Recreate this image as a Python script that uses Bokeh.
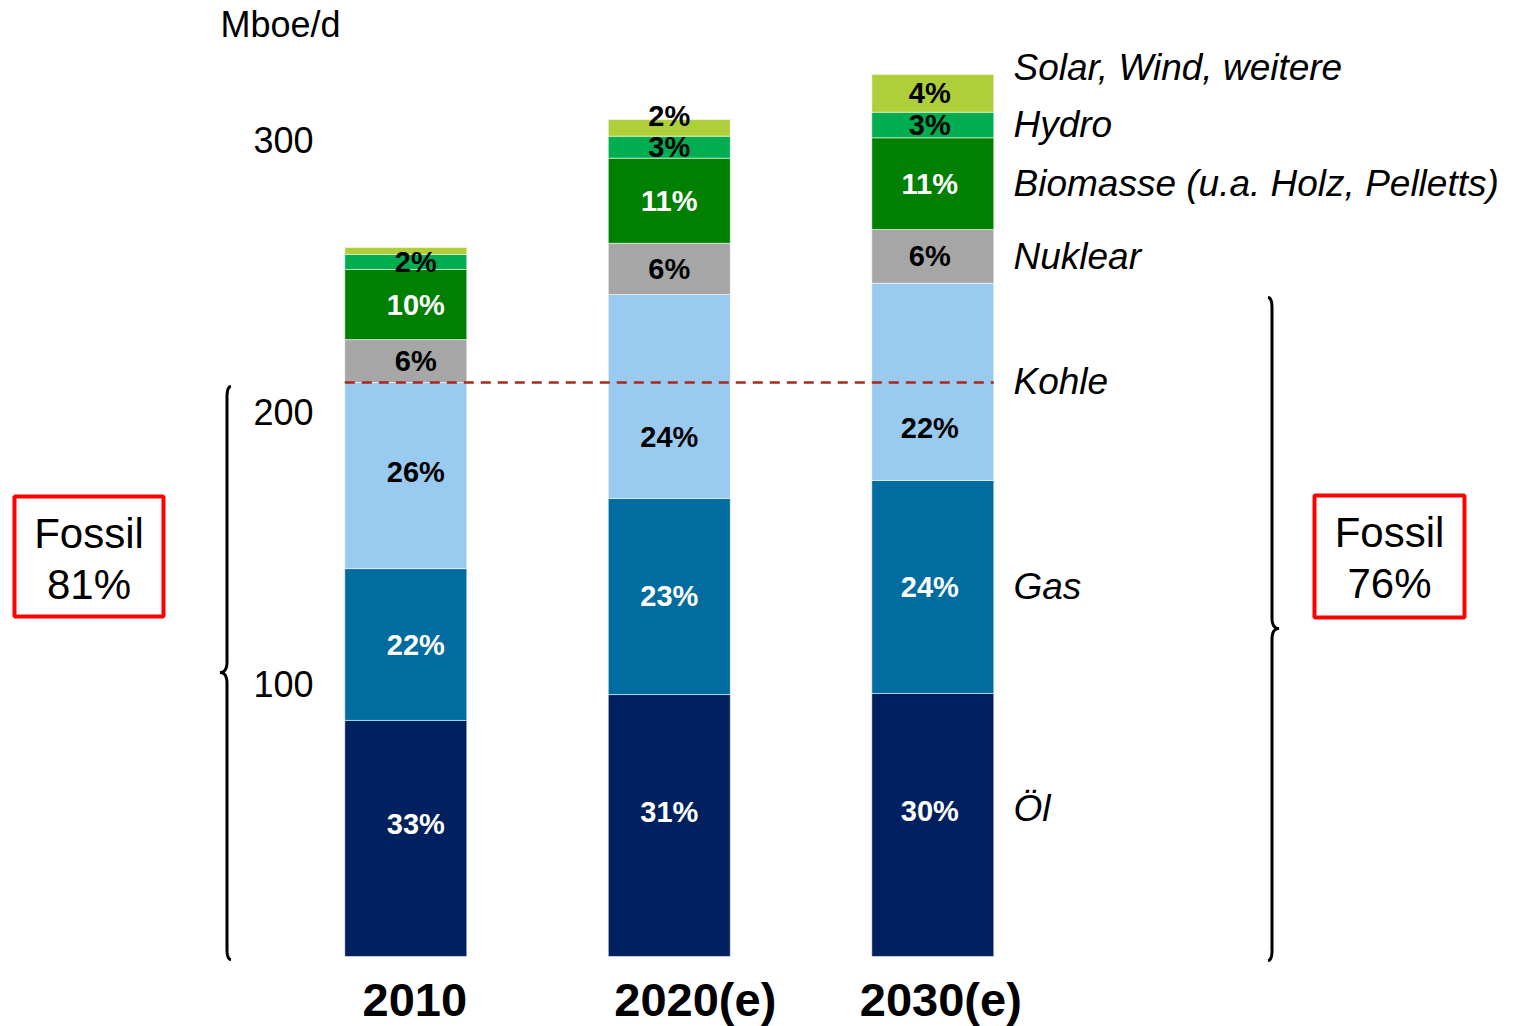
import numpy as np
from bokeh.plotting import figure
from bokeh.models import Range1d, ColumnDataSource
from bokeh.core.properties import value
from bokeh.embed import file_html
from bokeh.resources import INLINE

# ---------------- data ----------------
years = ["2010", "2020(e)", "2030(e)"]
series = ["Öl", "Gas", "Kohle", "Nuklear", "Biomasse (u.a. Holz, Pelletts)", "Hydro", "Solar, Wind, weitere"]
oil = [86.8, 96.3, 96.7]
gas = [55.8, 72.1, 78.3]
coal = [68.4, 75.0, 72.5]
nuclear = [15.8, 18.8, 19.8]
biomass = [25.8, 31.3, 33.7]
hydro = [5.5, 8.1, 9.4]
solar = [2.6, 6.1, 13.9]
pct_oil = ["33%", "31%", "30%"]
pct_gas = ["22%", "23%", "24%"]
pct_coal = ["26%", "24%", "22%"]
pct_nuclear = ["6%", "6%", "6%"]
pct_biomass = ["10%", "11%", "11%"]
pct_hydro = ["2%", "3%", "3%"]
pct_solar = ["", "2%", "4%"]
fossil_share = ["81%", "76%"]
fossil_label = "Fossil"
y_ticks = [100, 200, 300]
y_unit = "Mboe/d"

# ---------------- styles ----------------
colors = ["#002060", "#006C9F", "#99CAF0", "#A6A6A6", "#008000", "#00AD50", "#AECE3A"]
label_colors = ["white", "white", "black", "black", "white", "black", "black"]
cat_offsets_px = [9, 26, 8]
pct_offsets_px = [10, 0, -3]
FONT = value("Liberation Sans")

W, H = 1514, 1026
X0, X1 = -1.5381, 4.2076
Y0, Y1 = -25.74, 351.47
XPU = W / (X1 - X0)
YPU = H / (Y1 - Y0)


def ix(px):  # picture pixel -> data x
    return X0 + px / XPU


def iy(py):  # picture pixel -> data y
    return Y1 - py / YPU


p = figure(width=W, height=H, x_range=Range1d(X0, X1), y_range=Range1d(Y0, Y1),
           output_backend="svg", toolbar_location=None, min_border=0,
           x_axis_location=None, y_axis_location=None)
p.grid.visible = False
p.outline_line_color = None
p.background_fill_color = "white"

# ---------------- stacked bars ----------------
vals = [oil, gas, coal, nuclear, biomass, hydro, solar]
pcts = [pct_oil, pct_gas, pct_coal, pct_nuclear, pct_biomass, pct_hydro, pct_solar]
xs = np.arange(len(years))
BAR_W = 0.463
bottom = np.zeros(len(years))
bots, tops = [], []
for v, c in zip(vals, colors):
    top = bottom + np.array(v)
    p.vbar(x=xs, bottom=bottom, top=top, width=BAR_W, fill_color=c,
           line_color="white", line_alpha=0.55, line_width=1)
    bots.append(bottom.copy())
    tops.append(top.copy())
    bottom = top

# fossil level of 2010 (dashed line)
fossil_2010 = oil[0] + gas[0] + coal[0]
p.line(x=[xs[0] - BAR_W / 2, xs[-1] + BAR_W / 2], y=[fossil_2010, fossil_2010],
       line_color="#A8281E", line_width=2.5, line_dash="10 7")

# percentage labels
lx, ly, lt, lc, lo = [], [], [], [], []
for k in range(len(vals)):
    for i in range(len(years)):
        if not pcts[k][i]:
            continue
        b, t = bots[k][i], tops[k][i]
        if series[k] == "Kohle":
            t = min(t, fossil_2010)
        y = (b + t) / 2
        if k == 0:
            y += 14 / YPU
        if series[k] == "Kohle":
            y += 4 / YPU
        if k == len(vals) - 1 and (t - b) * YPU < 24:
            y = t + 4 / YPU
        lx.append(xs[i])
        ly.append(y)
        lt.append(pcts[k][i])
        lc.append(label_colors[k])
        lo.append(pct_offsets_px[i])
p.text(x="x", y="y", text="t", text_color="c", x_offset="o",
       source=ColumnDataSource(dict(x=lx, y=ly, t=lt, c=lc, o=lo)),
       text_font=FONT, text_font_style="bold", text_font_size="29px",
       text_align="center", text_baseline="middle")

# category labels
p.text(x="x", y="y", text="t", x_offset="o",
       source=ColumnDataSource(dict(x=list(xs), y=[iy(999)] * len(years), t=years,
                                    o=cat_offsets_px)),
       text_font=FONT, text_font_style="bold", text_font_size="47px",
       text_align="center", text_baseline="middle", text_color="black")

# y tick labels and unit
p.text(x=[ix(313)] * len(y_ticks), y=y_ticks, text=[str(t) for t in y_ticks],
       text_font=FONT, text_font_size="36px", text_align="right",
       text_baseline="middle", text_color="black")
p.text(x=[ix(220)], y=[iy(24)], text=[y_unit], text_font=FONT, text_font_size="36px",
       text_align="left", text_baseline="middle", text_color="black")

# series labels on the right, next to 2030 bar segments
nudge = [-16, 0, 0, 0, 0, 0, -26]  # px, upward negative
sy = [(bots[k][-1] + tops[k][-1]) / 2 - nudge[k] / YPU for k in range(len(series))]
p.text(x=[ix(1013)] * len(series), y=sy, text=series, text_font=FONT,
       text_font_style="italic", text_font_size="37px", text_align="left",
       text_baseline="middle", text_color="black")


# braces
def brace(xp, ytop, ybot, ymid, d, c=7, e=4, r=11):
    segs = []
    t = np.linspace(0, 1, 14)

    def quad(a, ctrl, b):
        a, ctrl, b = map(np.array, (a, ctrl, b))
        return [tuple((1 - s) ** 2 * a + 2 * (1 - s) * s * ctrl + s ** 2 * b) for s in t]

    segs += quad((xp - d * e, ytop), (xp, ytop), (xp, ytop + r))
    segs += quad((xp, ymid - r), (xp, ymid), (xp + d * c, ymid))
    segs += quad((xp + d * c, ymid), (xp, ymid), (xp, ymid + r))
    segs += quad((xp, ybot - r), (xp, ybot), (xp - d * e, ybot))
    bx = [ix(a) for a, _ in segs]
    by = [iy(b) for _, b in segs]
    p.line(bx, by, line_color="black", line_width=3)


brace(226.5, 386, 959, 672, -1)
brace(1271.5, 297, 960, 628, +1)

# Fossil boxes
box_l = [(14, 163, 496, 616), (1314, 1464, 495, 617)]
for (l, r, t, b), share in zip(box_l, fossil_share):
    p.quad(left=[ix(l)], right=[ix(r)], top=[iy(t)], bottom=[iy(b)],
           fill_color=None, line_color="#FF0000", line_width=4)
    cx = ix((l + r) / 2)
    p.text(x=[cx, cx], y=[iy(t + 37), iy(t + 88)], text=[fossil_label, share],
           text_font=FONT, text_font_size="42px", text_align="center",
           text_baseline="middle", text_color="black")

open("out.html", "w").write(file_html(p, INLINE))
